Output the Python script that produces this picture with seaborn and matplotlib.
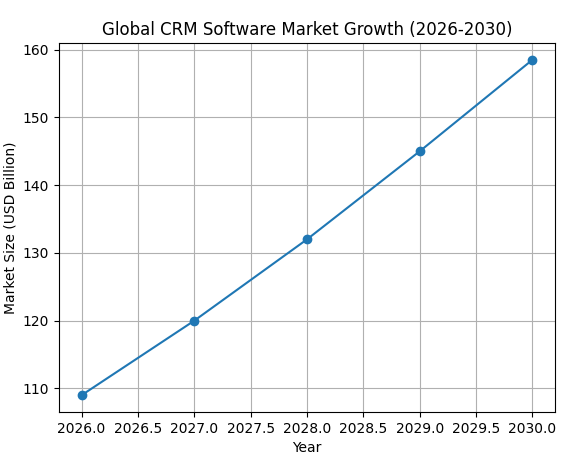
import matplotlib
matplotlib.use("Agg")
import matplotlib.pyplot as plt
import seaborn as sns
import pandas as pd

years = [2026, 2027, 2028, 2029, 2030]
market_size = [109, 120, 132, 145, 158.5]

df = pd.DataFrame({"Year": years, "Market Size": market_size})

fig, ax = plt.subplots(figsize=(5.85, 4.59), dpi=100)
sns.lineplot(data=df, x="Year", y="Market Size", marker="o", markersize=6,
             markeredgewidth=1, markeredgecolor="#1f77b4", color="#1f77b4", ax=ax)
ax.set_title("Global CRM Software Market Growth (2026-2030)")
ax.set_xlabel("Year")
ax.set_ylabel("Market Size (USD Billion)")
ax.grid(True, color="#b0b0b0", linewidth=0.8)
fig.subplots_adjust(left=59/585, right=555/585, top=1-43/459, bottom=1-412/459)
fig.savefig("out.png", dpi=100)
